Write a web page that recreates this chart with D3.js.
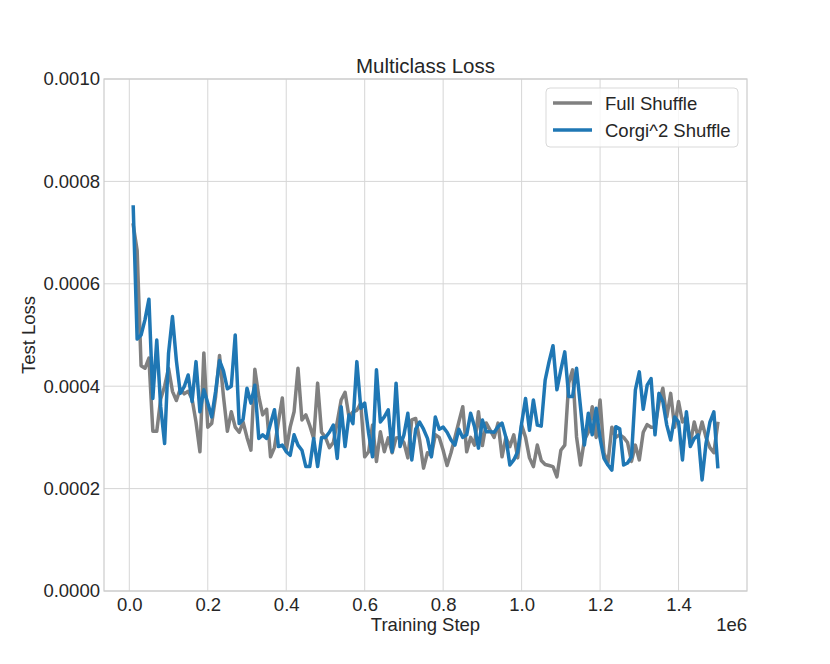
<!DOCTYPE html>
<html>
<head>
<meta charset="utf-8">
<script src="https://cdn.jsdelivr.net/npm/d3@7"></script>
<style>
  body { margin: 0; background: #fff; }
  text { font-family: "Liberation Sans", Arial, sans-serif; fill: #262626; }
</style>
</head>
<body>
<svg id="chart" width="830" height="664"></svg>
<script>
// ---- data (loss values in units of 1e-4) ----
const steps = d3.range(10000, 1500001, 10000);
const fullShuffle = [
  7.15, 6.65, 4.40, 4.35, 4.55, 3.12, 3.12, 3.75, 4.00, 4.35,
  3.90, 3.72, 3.95, 3.85, 3.90, 3.75, 3.30, 2.72, 4.65, 3.20,
  3.27, 3.80, 4.60, 3.80, 3.12, 3.50, 3.20, 3.10, 3.30, 3.00,
  2.75, 4.33, 3.80, 3.44, 3.55, 2.62, 2.80, 3.30, 3.77, 2.75,
  3.20, 3.50, 4.35, 3.34, 3.44, 3.23, 2.98, 4.06, 3.10, 3.00,
  2.80, 2.90, 3.30, 3.73, 3.88, 3.40, 3.50, 3.53, 3.67, 2.62,
  2.72, 3.24, 2.53, 3.11, 2.72, 2.99, 2.70, 2.99, 3.00, 2.90,
  2.60, 3.34, 3.37, 2.95, 2.40, 2.70, 2.65, 3.05, 3.00, 2.75,
  2.45, 2.70, 3.00, 3.30, 3.60, 2.72, 3.00, 2.85, 3.50, 2.84,
  3.28, 3.14, 3.00, 3.28, 2.62, 3.00, 2.82, 3.05, 2.60, 3.24,
  3.00, 2.60, 2.43, 2.85, 2.55, 2.47, 2.45, 2.43, 2.23, 2.75,
  2.85, 4.06, 4.32, 3.01, 2.46, 2.95, 3.10, 3.60, 3.00, 3.73,
  2.69, 2.50, 3.20, 3.00, 3.05, 3.00, 2.90, 2.53, 2.85, 2.56,
  3.10, 3.25, 3.20, 3.20, 3.67, 3.96, 3.40, 3.86, 3.20, 3.70,
  3.30, 3.40, 2.88, 3.30, 3.00, 3.30, 3.00, 2.80, 2.70, 3.27
];
const corgiShuffle = [
  7.50, 4.92, 5.00, 5.30, 5.70, 3.76, 4.90, 3.60, 2.88, 4.64,
  5.36, 4.50, 3.86, 3.99, 4.22, 3.70, 4.48, 3.50, 3.93, 3.67,
  3.40, 3.90, 4.50, 4.30, 3.95, 4.00, 5.00, 3.27, 3.35, 3.96,
  3.67, 4.02, 2.98, 3.05, 2.98, 3.27, 3.54, 2.82, 2.85, 2.72,
  2.65, 3.05, 2.85, 2.75, 2.43, 2.43, 2.98, 2.43, 3.00, 3.00,
  3.10, 3.24, 2.59, 3.60, 2.82, 3.44, 3.27, 4.48, 3.57, 3.67,
  3.08, 2.62, 4.32, 3.30, 3.40, 3.54, 2.72, 4.06, 2.82, 3.05,
  3.47, 2.56, 3.16, 3.30, 3.16, 2.98, 2.62, 3.40, 3.16, 3.20,
  3.10, 2.95, 2.85, 3.16, 3.00, 3.05, 3.47, 3.21, 2.79, 3.34,
  3.11, 3.11, 3.10, 3.21, 3.28, 3.00, 2.46, 2.56, 2.72, 3.27,
  3.76, 3.14, 3.73, 3.24, 3.22, 4.12, 4.48, 4.79, 3.93, 4.32,
  4.67, 3.80, 3.80, 4.35, 3.60, 2.85, 3.47, 3.05, 3.57, 2.98,
  2.59, 2.46, 2.36, 3.21, 3.17, 2.46, 2.50, 2.62, 3.93, 4.28,
  3.55, 4.02, 4.15, 3.05, 3.86, 3.70, 3.24, 2.95, 3.40, 3.30,
  2.56, 3.50, 2.82, 2.98, 3.05, 2.17, 2.88, 3.30, 3.50, 2.43
];
const xTicks = [0, 0.2, 0.4, 0.6, 0.8, 1.0, 1.2, 1.4];
const yTicks = [0, 0.0002, 0.0004, 0.0006, 0.0008, 0.0010];
const seriesNames = ["Full Shuffle", "Corgi^2 Shuffle"];
const seriesColors = ["#808080", "#1f77b4"];

// ---- layout ----
const svg = d3.select("#chart");
const L = 104, R = 747, T = 79, B = 591;
const FS = "18.5px";
const x = d3.scaleLinear().domain([-0.0645e6, 1.5745e6]).range([L, R]);
const y = d3.scaleLinear().domain([0, 0.001]).range([B, T]);

// grid
svg.append("g").selectAll("line").data(xTicks).join("line")
  .attr("x1", d => x(d * 1e6)).attr("x2", d => x(d * 1e6))
  .attr("y1", T).attr("y2", B)
  .attr("stroke", "#d6d6d6").attr("stroke-width", 1);
svg.append("g").selectAll("line").data(yTicks).join("line")
  .attr("x1", L).attr("x2", R)
  .attr("y1", d => y(d)).attr("y2", d => y(d))
  .attr("stroke", "#d6d6d6").attr("stroke-width", 1);

// frame
svg.append("rect").attr("x", L).attr("y", T).attr("width", R - L).attr("height", B - T)
  .attr("fill", "none").attr("stroke", "#cccccc").attr("stroke-width", 1.2);

// axes (labels only, no tick marks)
const xAxis = d3.axisBottom(x).tickValues(xTicks.map(d => d * 1e6))
  .tickFormat(d => (d / 1e6).toFixed(1)).tickSize(0).tickPadding(7);
const gx = svg.append("g").attr("transform", `translate(0,${B})`).call(xAxis);
gx.select(".domain").remove();
gx.selectAll("text").style("font-size", FS).attr("fill", "#262626")
  .style("font-family", "Liberation Sans, Arial, sans-serif");

const yAxis = d3.axisLeft(y).tickValues(yTicks).tickFormat(d3.format(".4f"))
  .tickSize(0).tickPadding(4);
const gy = svg.append("g").attr("transform", `translate(${L},0)`).call(yAxis);
gy.select(".domain").remove();
gy.selectAll("text").style("font-size", FS).attr("fill", "#262626")
  .style("font-family", "Liberation Sans, Arial, sans-serif");

// lines
const series = [fullShuffle, corgiShuffle];
const line = d3.line().x(d => x(d[0])).y(d => y(d[1] * 1e-4));
series.forEach((vals, i) => {
  svg.append("path")
    .datum(steps.map((s, j) => [s, vals[j]]))
    .attr("d", line)
    .attr("fill", "none")
    .attr("stroke", seriesColors[i])
    .attr("stroke-width", 3.5)
    .attr("stroke-linejoin", "round")
    .attr("stroke-linecap", "square");
});

// title and labels
svg.append("text").attr("x", (L + R) / 2).attr("y", 73).attr("text-anchor", "middle")
  .style("font-size", "20.5px").text("Multiclass Loss");
svg.append("text").attr("x", (L + R) / 2).attr("y", 631).attr("text-anchor", "middle")
  .style("font-size", FS).text("Training Step");
svg.append("text").attr("transform", `translate(35,${(T + B) / 2}) rotate(-90)`)
  .attr("text-anchor", "middle").style("font-size", FS).text("Test Loss");
svg.append("text").attr("x", R).attr("y", 631).attr("text-anchor", "end")
  .style("font-size", FS).text("1e6");

// legend
const lg = svg.append("g");
lg.append("rect").attr("x", 546).attr("y", 88).attr("width", 192).attr("height", 59)
  .attr("rx", 4).attr("fill", "#fff").attr("fill-opacity", 0.8)
  .attr("stroke", "#d9d9d9").attr("stroke-width", 1);
seriesNames.forEach((name, i) => {
  const yy = 103 + i * 27;
  lg.append("line").attr("x1", 553).attr("x2", 592).attr("y1", yy).attr("y2", yy)
    .attr("stroke", seriesColors[i]).attr("stroke-width", 3.5);
  lg.append("text").attr("x", 605).attr("y", yy + 6.5).style("font-size", FS).text(name);
});
</script>
</body>
</html>
